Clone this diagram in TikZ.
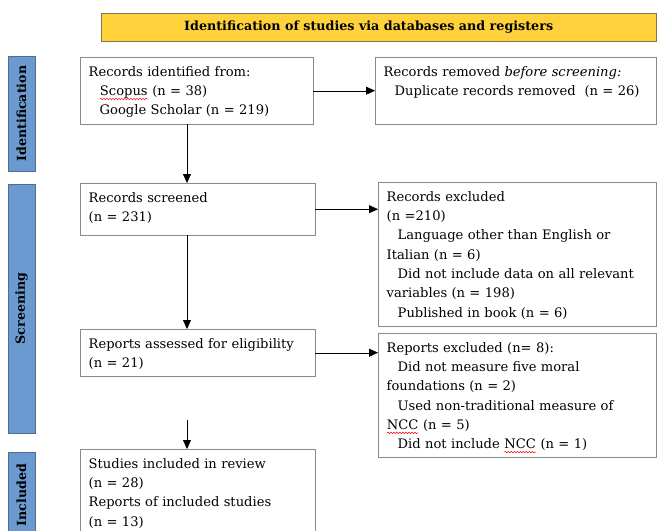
\documentclass[tikz,border=0pt]{standalone}
\usepackage{fontspec}
\setmainfont{DejaVu Serif}
\usetikzlibrary{arrows.meta,decorations.pathmorphing}
\definecolor{headfill}{HTML}{FFD13B}
\definecolor{headline}{HTML}{857547}
\definecolor{barfill}{HTML}{6A9AD0}
\definecolor{barline}{HTML}{4F6D8E}
\definecolor{boxline}{HTML}{8A8A8A}
% wavy spell-check mark under a word
\newcommand{\spellmark}[1]{\tikz[baseline=(sw.base),x=1pt,y=1pt]{%
  \node[inner sep=0,outer sep=0] (sw) {#1};
  \draw[red,line width=0.5pt,decorate,decoration={snake,amplitude=0.8pt,segment length=3pt}]
    ([yshift=-3.5pt]sw.base west) -- ([yshift=-3.5pt]sw.base east);}}
\newcommand{\ind}{\hspace*{11pt}}
\tikzset{
  txtfont/.style={font=\fontsize{13.1}{19.3}\selectfont},
  head/.style={draw=headline, fill=headfill, anchor=north west, inner sep=0,
    font=\fontsize{12.7}{19.3}\selectfont\bfseries},
  stage/.style={draw=barline, fill=barfill, rotate=90, inner sep=0,
    minimum height=27, font=\fontsize{12.6}{19.3}\selectfont\bfseries},
  box/.style={draw=boxline, fill=white, anchor=north west, align=left,
    inner xsep=8.5, inner ysep=0, text height=19, txtfont},
  arr/.style={draw=black!75, -{Triangle[length=9pt,width=8pt]}, black}
}
\begin{document}
\begin{tikzpicture}[x=1pt,y=-1pt]
\useasboundingbox (0,0) rectangle (661,530);
\clip (0,0) rectangle (661,530);
\node[head, minimum width=555, minimum height=28] (head) at (101,13)
  {Identification of studies via databases and registers\hspace*{20pt}};
% stage bars on the left
\node[stage, minimum width=115] (barid) at (21.5,113.5) {Identification};
\node[stage, minimum width=249] (barscr) at (21.5,308.5) {Screening};
\node[stage, minimum width=86] (barinc) at (21.5,495) {Included};
% boxes
\node[box, text width=216, text depth=48] (ident) at (80,57)
  {Records identified from:\\ \ind\spellmark{Scopus} (n = 38)\\ \ind Google Scholar (n = 219)};
\node[box, text width=264, text depth=48] (removed) at (375,57)
  {Records removed \textit{before screening:}\\ \ind Duplicate records removed\ \ (n = 26)};
\node[box, text width=218, text depth=33] (screened) at (80,183)
  {Records screened\\ (n = 231)};
\node[box, text width=261, text depth=125] (excluded) at (378,182)
  {Records excluded\\ (n =210)\\ \ind Language other than English or\\ Italian (n = 6)\\
   \ind Did not include data on all relevant\\ variables (n = 198)\\ \ind Published in book (n = 6)};
\node[box, text width=218, text depth=28] (assessed) at (80,329)
  {Reports assessed for eligibility\\ (n = 21)};
\node[box, text width=261, text depth=105] (rexcluded) at (378,333)
  {Reports excluded (n= 8):\\ \ind Did not measure five moral\\ foundations (n = 2)\\
   \ind Used non-traditional measure of\\ \spellmark{NCC} (n = 5)\\ \ind Did not include \spellmark{NCC} (n = 1)};
\node[box, text width=218, text depth=76] (included) at (80,449)
  {Studies included in review\\ (n = 28)\\ Reports of included studies\\ (n = 13)};
% connectors
\coordinate (spine) at (187,0);
\coordinate (gap) at (187,420);
\draw[arr] (ident.east) -- (removed.west);
\draw[arr] (screened.east) -- (screened.east -| excluded.west);
\draw[arr] (assessed.east) -- (assessed.east -| rexcluded.west);
\draw[arr] (spine |- ident.south) -- (spine |- screened.north);
\draw[arr] (spine |- screened.south) -- (spine |- assessed.north);
\draw[arr] (gap) -- (gap |- included.north);
\end{tikzpicture}
\end{document}
